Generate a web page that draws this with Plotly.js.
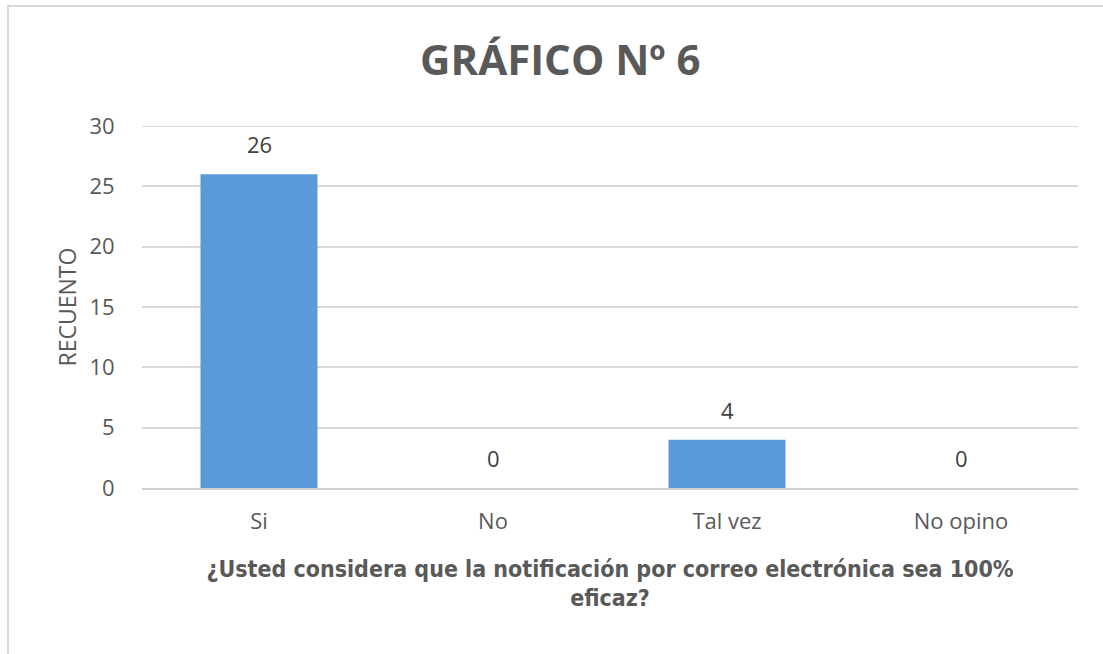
<!DOCTYPE html>
<html>
<head>
<meta charset="utf-8">
<script src="https://cdn.plot.ly/plotly-3.0.1.min.js"></script>
<style>
  html, body { margin: 0; padding: 0; background: #ffffff; }
  #frame { position: absolute; left: 7px; top: 5px; width: 1096px; height: 649px;
           border-top: 2px solid #d9d9d9; border-left: 2px solid #d9d9d9; box-sizing: border-box; }
  #chart { position: absolute; left: 0; top: 0; width: 1103px; height: 654px; }
</style>
</head>
<body>
<div id="frame"></div>
<div id="chart"></div>
<script>
const categories = ["Si", "No", "Tal vez", "No opino"];
const counts = [26, 0, 4, 0];
const yTicks = [0, 5, 10, 15, 20, 25, 30];
const chartTitle = "GRÁFICO Nº 6";
const xTitle = "¿Usted considera que la notificación por correo electrónica sea 100%<br>eficaz?";
const yTitle = "RECUENTO";

const trace = {
  type: "bar",
  x: categories,
  y: counts,
  width: 0.5,
  marker: { color: "#5a9ad8", line: { width: 0 } },
  hoverinfo: "x+y"
};

const labelAnnotations = categories.map((c, i) => ({
  x: c, y: counts[i], xref: "x", yref: "y",
  text: String(counts[i]),
  showarrow: false,
  yanchor: "middle", yshift: 30,
  font: { family: "Open Sans, sans-serif", size: 22, color: "#404040" }
}));

const layout = {
  width: 1103,
  height: 654,
  paper_bgcolor: "rgba(0,0,0,0)",
  plot_bgcolor: "rgba(0,0,0,0)",
  margin: { l: 142, r: 25, t: 126, b: 166 },
  showlegend: false,
  title: {
    text: "<b>" + chartTitle + "</b>",
    font: { family: "Open Sans, sans-serif", size: 42, color: "#595959" },
    x: 0.508, xanchor: "center", xref: "container",
    y: 0.908, yanchor: "middle"
  },
  xaxis: {
    type: "category",
    tickfont: { family: "Open Sans, sans-serif", size: 22, color: "#595959" },
    showline: true, linecolor: "#d0d0d0", linewidth: 2,
    ticks: "outside", ticklen: 13, tickcolor: "rgba(0,0,0,0)",
    showgrid: false,
    title: {
      text: "<b>" + xTitle + "</b>",
      font: { family: "Liberation Sans Narrow, DejaVu Sans Condensed, sans-serif", size: 23, color: "#595959" },
      standoff: 26
    },
    automargin: false
  },
  yaxis: {
    range: [0, 30],
    tickvals: yTicks,
    ticktext: yTicks.map(String),
    tickfont: { family: "Open Sans, sans-serif", size: 22, color: "#595959" },
    showgrid: true, gridcolor: "#d9d9d9", gridwidth: 2,
    zeroline: false,
    showline: false,
    ticks: "outside", ticklen: 22, tickcolor: "rgba(0,0,0,0)",
    title: {
      text: yTitle,
      font: { family: "Open Sans, sans-serif", size: 23, color: "#595959" },
      standoff: 6
    },
    automargin: false
  },
  shapes: [{
    type: "line", xref: "paper", yref: "y",
    x0: 0, x1: 1, y0: yTicks[yTicks.length - 1], y1: yTicks[yTicks.length - 1],
    line: { color: "#d9d9d9", width: 2 }
  }],
  annotations: labelAnnotations
};

Plotly.newPlot("chart", [trace], layout, { displayModeBar: false, staticPlot: true });
</script>
</body>
</html>
